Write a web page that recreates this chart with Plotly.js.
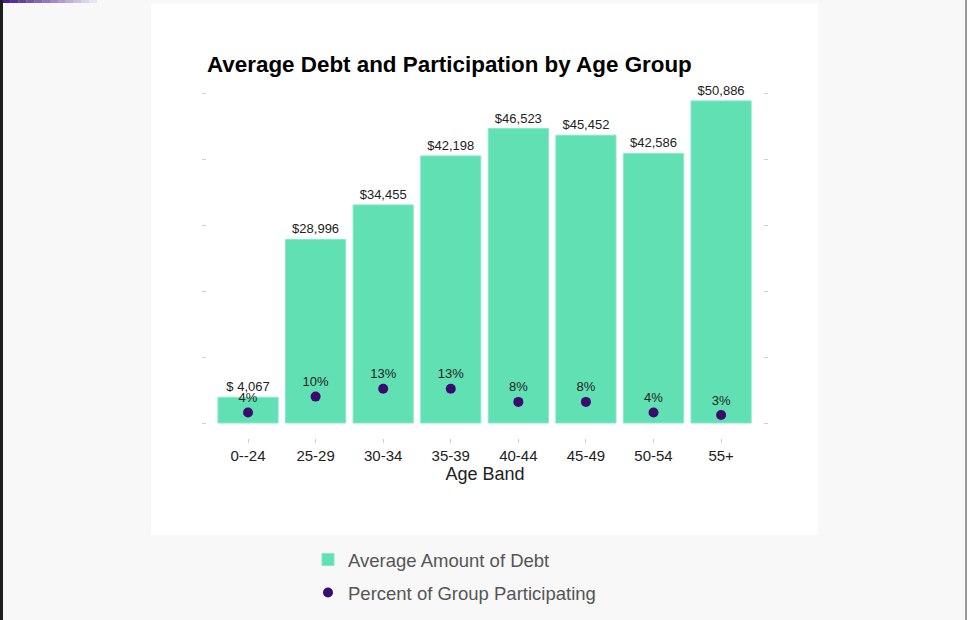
<!DOCTYPE html>
<html>
<head>
<meta charset="utf-8">
<script src="https://cdn.plot.ly/plotly-3.0.1.min.js"></script>
<style>html,body{margin:0;padding:0;background:#f8f8f8;}#chart{width:967px;height:620px;}</style>
</head>
<body>
<div id="chart"></div>
<script>
// ---- data ----
const ageBands = ['0--24', '25-29', '30-34', '35-39', '40-44', '45-49', '50-54', '55+'];
const avgDebt = [4067, 28996, 34455, 42198, 46523, 45452, 42586, 50886];
const debtLabels = ['$ 4,067', '$28,996', '$34,455', '$42,198', '$46,523', '$45,452', '$42,586', '$50,886'];
const pctParticipating = [4, 10, 13, 13, 8, 8, 4, 3];
const pctLabels = pctParticipating.map(v => v + '%');
const pctTicks = [0, 25, 50, 75, 100, 125];

// ---- layout helpers (pixel -> paper) ----
const W = 967, H = 620;
const L = 207, R = 763, T = 85, B = 438;
const px = x => (x - L) / (R - L);
const py = y => (B - y) / (B - T);

const FONT = 'Liberation Sans, Arial, Helvetica, sans-serif';
const barColor = '#60e0b3';
const dotColor = '#3c0b6f';

const traces = [
  {
    type: 'bar',
    name: 'Average Amount of Debt',
    x: ageBands,
    y: avgDebt,
    text: debtLabels,
    textposition: 'outside',
    textfont: {size: 13, color: '#222', family: FONT},
    cliponaxis: false,
    marker: {color: barColor, line: {color: '#86e9c9', width: 1}},
    legendgroup: 'a',
    hoverinfo: 'x+y',
    yaxis: 'y'
  },
  {
    type: 'scatter',
    mode: 'markers+text',
    name: 'Percent of Group Participating',
    x: ageBands,
    y: pctParticipating,
    text: pctLabels,
    textposition: 'top center',
    textfont: {size: 13, color: '#222', family: FONT},
    cliponaxis: false,
    marker: {color: dotColor, size: 10},
    legendgroup: 'b',
    yaxis: 'y2'
  }
];

// decorative shapes: white panel, borders, gradient accent
const shapes = [
  {type: 'rect', xref: 'paper', yref: 'paper', layer: 'below',
   x0: px(151), x1: px(818), y0: py(535), y1: py(3),
   fillcolor: '#ffffff', line: {width: 0}},
  {type: 'rect', xref: 'paper', yref: 'paper', layer: 'above',
   x0: px(0), x1: px(3), y0: py(620), y1: py(0),
   fillcolor: '#1e1e1e', line: {width: 0}},
  {type: 'rect', xref: 'paper', yref: 'paper', layer: 'above',
   x0: px(965), x1: px(967), y0: py(620), y1: py(0),
   fillcolor: '#9a9a9a', line: {width: 0}}
];
const gSteps = 12, gx0 = 3, gx1 = 97;
for (let i = 0; i < gSteps; i++) {
  const a = gx0 + (gx1 - gx0) * i / gSteps, b = gx0 + (gx1 - gx0) * (i + 1) / gSteps;
  shapes.push({type: 'rect', xref: 'paper', yref: 'paper', layer: 'above',
    x0: px(a), x1: px(b), y0: py(3), y1: py(0),
    fillcolor: '#4b1d8f', opacity: 1 - i / gSteps, line: {width: 0}});
}

// axis ranges (zero line at pixel 423)
const zeroPx = 423;
const debtPerPx = 1000 / 6.33;
const pctPerPx = 1 / 2.64;
const debtRange = [-(B - zeroPx) * debtPerPx, (zeroPx - T) * debtPerPx];
const pctRange = [-(B - zeroPx) * pctPerPx, (zeroPx - T) * pctPerPx];

const layout = {
  width: W, height: H,
  paper_bgcolor: '#f8f8f8',
  plot_bgcolor: 'rgba(0,0,0,0)',
  font: {family: FONT, color: '#222'},
  margin: {l: L, r: W - R, t: T, b: H - B, pad: 0, autoexpand: false},
  title: {
    text: '<b>Average Debt and Participation by Age Group</b>',
    font: {size: 22.4, color: '#000', family: FONT},
    xref: 'paper', x: 0, xanchor: 'left',
    yref: 'container', y: 1 - 64 / H, yanchor: 'middle'
  },
  bargap: 0.11,
  showlegend: true,
  legend: {
    x: px(308), xanchor: 'left',
    y: py(541), yanchor: 'top',
    bgcolor: 'rgba(0,0,0,0)',
    font: {size: 18.5, color: '#555', family: FONT},
    tracegroupgap: 6,
    traceorder: 'grouped'
  },
  xaxis: {
    type: 'category',
    range: [-0.607, 7.62],
    showgrid: false, zeroline: false, showline: false,
    ticks: 'outside', ticklen: 4, tickcolor: '#cfcfcf', tickwidth: 1,
    tickfont: {size: 15, color: '#222'},
    title: {text: 'Age Band', font: {size: 18, color: '#222'}, standoff: 2},
    fixedrange: true
  },
  yaxis: {
    range: debtRange,
    showgrid: false, zeroline: false, showline: false,
    showticklabels: false, ticks: '',
    fixedrange: true
  },
  yaxis2: {
    overlaying: 'y', side: 'left',
    range: pctRange,
    tickmode: 'array', tickvals: pctTicks,
    showgrid: false, zeroline: false, showline: false,
    showticklabels: false,
    ticks: 'outside', ticklen: 4, tickcolor: '#cfcfcf', tickwidth: 1,
    mirror: 'ticks',
    fixedrange: true
  },
  shapes: shapes
};

Plotly.newPlot('chart', traces, layout, {displayModeBar: false, staticPlot: true});
</script>
</body>
</html>
